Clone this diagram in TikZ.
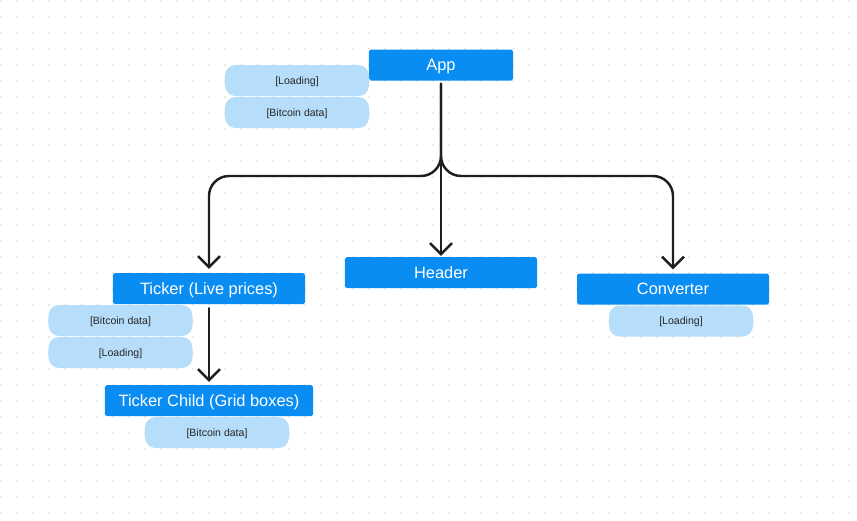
\documentclass[tikz,border=0pt]{standalone}
\usepackage{fontspec}
\setmainfont{Liberation Sans}
\usetikzlibrary{arrows.meta}
\definecolor{compblue}{HTML}{0A8DF2}
\definecolor{propblue}{HTML}{B6DDF9}
\definecolor{wirecol}{HTML}{1E1E1E}
\definecolor{gridgray}{HTML}{D6D6D6}
\begin{document}
\begin{tikzpicture}[line join=round, line cap=round, x=0.03cm, y=-0.03cm, >={Straight Barb[length=0.33cm,width=0.66cm]}]
	\tikzset{comp/.style={fill=compblue, text=white, rounded corners=1.5pt, minimum height=0.93cm, inner sep=0pt, text height=10pt, text depth=0pt, font=\fontsize{14}{16}\selectfont},
		prop/.style={fill=propblue, text=black!85, rounded corners=0.32cm, minimum width=4.32cm, minimum height=0.93cm, inner sep=0pt, text height=6.5pt, text depth=0pt, font=\fontsize{9}{11}\selectfont},
		wire/.style={draw=wirecol, line width=2.1pt, ->, rounded corners=0.6cm}}
	\fill[white] (0,0) rectangle (857,520);
	\useasboundingbox (0,0) rectangle (857,520);
	\foreach \i in {0,...,53} \foreach \j in {0,...,32} \fill[gridgray] (16*\i+1,16*\j+1) circle (0.7pt);
	\node[comp, minimum width=4.32cm] (app) at (441,65) {App};
	\node[prop] (apploading) at (297,80.5) {[Loading]};
	\node[prop] (appbitcoin) at (297,112.5) {[Bitcoin data]};
	\node[comp, minimum width=5.76cm] (ticker) at (209,288.5) {Ticker (Live prices)};
	\node[prop] (tickerbitcoin) at (120.5,320.5) {[Bitcoin data]};
	\node[prop] (tickerloading) at (120.5,352.5) {[Loading]};
	\node[comp, minimum width=6.24cm] (child) at (209,400.5) {Ticker Child (Grid boxes)};
	\node[prop] (childbitcoin) at (217,432.5) {[Bitcoin data]};
	\node[comp, minimum width=5.76cm] (header) at (441,272.5) {Header};
	\node[comp, minimum width=5.76cm] (converter) at (673,289) {Converter};
	\node[prop] (converterloading) at (681,321) {[Loading]};
	\coordinate (fork) at (441,176);
	\draw[wire, shorten <=0.09cm, shorten >=0.03cm] (app) -- (header);
	\draw[wire, shorten <=0.09cm, shorten >=0.12cm] (app) -- (fork) -| (ticker);
	\draw[wire, shorten <=0.09cm, shorten >=0.12cm] (app) -- (fork) -| (converter);
	\draw[wire, shorten <=0.12cm, shorten >=0.09cm] (ticker) -- (child);
\end{tikzpicture}
\end{document}
